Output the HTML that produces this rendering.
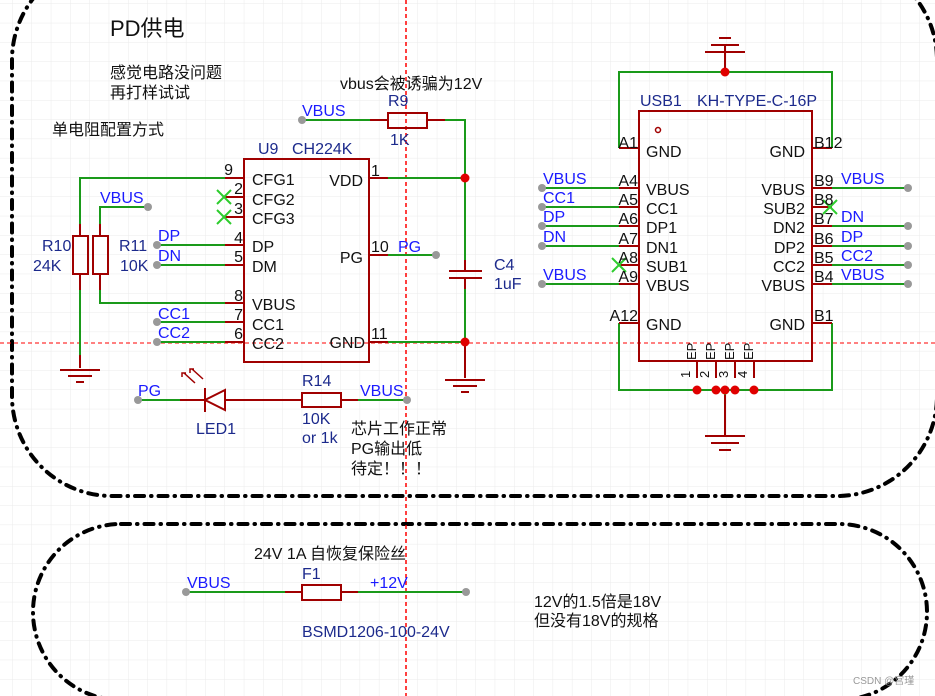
<!DOCTYPE html>
<html><head><meta charset="utf-8"><style>
html,body{margin:0;padding:0;background:#fff;}
svg{display:block;}
text{font-family:"Liberation Sans","Noto Sans CJK SC",sans-serif;}
</style></head><body>
<svg width="935" height="696" viewBox="0 0 935 696" xmlns="http://www.w3.org/2000/svg">
<defs>
<pattern id="g" x="12.2" y="3.5" width="19.3" height="19.3" patternUnits="userSpaceOnUse">
<path d="M0 0H19.3M0 0V19.3" stroke="#ebebeb" stroke-width="1" fill="none"/>
</pattern>
</defs>
<rect width="935" height="696" fill="#fff"/>
<rect width="935" height="696" fill="url(#g)"/>

<!-- dash-dot outlines -->
<g fill="none" stroke="#000" stroke-width="4" stroke-dasharray="9,7,0.5,7" stroke-linecap="round">
<rect x="12" y="-40" width="925" height="536" rx="100" ry="100"/>
<rect x="33" y="524" width="894" height="176" rx="88" ry="88"/>
</g>

<!-- red guide lines -->
<line x1="406" y1="0" x2="406" y2="696" stroke="#f00" stroke-width="1.5" stroke-dasharray="4,3"/>
<line x1="0" y1="343" x2="935" y2="343" stroke="#f00" stroke-width="1" stroke-dasharray="4,3"/>

<g stroke-width="2" fill="none">
<g stroke="#1a9a1a">
<path d="M302 120H370M445 120H465V178H388M465 178V260M465 289V342H388M465 342V375"/>
<path d="M225 178H80V236M80 274V358"/>
<path d="M148 207H100V236M100 274V303H225"/>
<path d="M157 245H225M157 265H225M157 322H225M157 342H225"/>
<path d="M388 255H436"/>
<path d="M138 400H180M265 400H285M358 400H407"/>
<path d="M725 72V55M619 148V72H832V148"/>
<path d="M542 188H619M542 207H619M542 226H619M542 246H619M542 284H619"/>
<path d="M832 188H908M832 226H908M832 246H908M832 265H908M832 284H908"/>
<path d="M619 323V390H832V323M725 390V425"/>
<path d="M186 592H285M358 592H466"/>
</g>
<g stroke="#a00000">
<path d="M370 120H388M427 120H445"/>
<path d="M225 178H244M225 197H244M225 217H244M225 245H244M225 265H244M225 303H244M225 322H244M225 342H244"/>
<path d="M369 178H388M369 255H388M369 342H388"/>
<path d="M80 236V224M80 274V290M100 274V290M100 236V224"/>
<path d="M465 260V271M465 278V289M465 342V378"/>
<path d="M80 355V368M180 400H205M225 400H302M341 400H358"/>
<path d="M619 148H639M619 188H639M619 207H639M619 226H639M619 246H639M619 265H639M619 284H639M619 323H639"/>
<path d="M812 148H832M812 188H832M812 207H832M812 226H832M812 246H832M812 265H832M812 284H832M812 323H832"/>
<path d="M697 361V378M716 361V378M735 361V378M754 361V378M725 72V45M725 395V435"/>
<path d="M285 592H302M341 592H358"/>
</g>
<g stroke="#a00000">
<rect x="244" y="159" width="125" height="203"/>
<rect x="388" y="113" width="39" height="15"/>
<rect x="73" y="236" width="15" height="38"/>
<rect x="93" y="236" width="15" height="38"/>
<path d="M449 271H482M449 278H482"/>
<rect x="302" y="393" width="39" height="14"/>
<rect x="302" y="585" width="39" height="15"/>
<rect x="639" y="111" width="173" height="250"/>
<path d="M225 390L205 400L225 410Z M205 388V412"/>
<path d="M195 383L184 373M186 373h-4v4 M203 379L192 369M194 369h-4v4" stroke-width="1.5"/>
<path d="M60 370H100M68 376H92M76 382H84"/>
<path d="M445 380H485M453 386H477M461 392H469"/>
<path d="M705 52H745M711 45H739M719 38H731"/>
<path d="M705 436H745M711 443H739M719 450H731"/>
</g>
<circle cx="658" cy="130" r="2.5" stroke="#a00000" stroke-width="1.5"/>
</g>
<g stroke="#2ecc2e" stroke-width="2">
<path d="M217 190l14 14M231 190l-14 14M217 210l14 14M231 210l-14 14"/>
<path d="M612 258l14 14M626 258l-14 14M823 200l14 14M837 200l-14 14"/>
</g>
<g fill="#e00000">
<circle cx="465" cy="178" r="4.5"/><circle cx="465" cy="342" r="4.5"/>
<circle cx="725" cy="72" r="4.5"/>
<circle cx="697" cy="390" r="4.5"/><circle cx="716" cy="390" r="4.5"/><circle cx="725" cy="390" r="4.5"/><circle cx="735" cy="390" r="4.5"/><circle cx="754" cy="390" r="4.5"/>
</g>
<g fill="#999">
<circle cx="302" cy="120" r="4"/><circle cx="148" cy="207" r="4"/>
<circle cx="157" cy="245" r="4"/><circle cx="157" cy="265" r="4"/><circle cx="157" cy="322" r="4"/><circle cx="157" cy="342" r="4"/>
<circle cx="436" cy="255" r="4"/><circle cx="138" cy="400" r="4"/><circle cx="407" cy="400" r="4"/>
<circle cx="542" cy="188" r="4"/><circle cx="542" cy="207" r="4"/><circle cx="542" cy="226" r="4"/><circle cx="542" cy="246" r="4"/><circle cx="542" cy="284" r="4"/>
<circle cx="908" cy="188" r="4"/><circle cx="908" cy="226" r="4"/><circle cx="908" cy="246" r="4"/><circle cx="908" cy="265" r="4"/><circle cx="908" cy="284" r="4"/>
<circle cx="186" cy="592" r="4"/><circle cx="466" cy="592" r="4"/>
</g>

<g fill="#111" font-size="16">
<text x="110" y="36" font-size="22">PD供电</text>
<text x="110" y="78" font-size="16">感觉电路没问题</text>
<text x="110" y="98" font-size="16">再打样试试</text>
<text x="52" y="135" font-size="16">单电阻配置方式</text>
<text x="340" y="89" font-size="16">vbus会被诱骗为12V</text>
<text x="351" y="434" font-size="16">芯片工作正常</text>
<text x="351" y="454" font-size="16">PG输出低</text>
<text x="351" y="474" font-size="16">待定！！！</text>
<text x="254" y="559" font-size="16">24V 1A 自恢复保险丝</text>
<text x="534" y="607" font-size="16">12V的1.5倍是18V</text>
<text x="534" y="626" font-size="16">但没有18V的规格</text>
<g font-size="16">
<text x="252" y="185">CFG1</text><text x="252" y="205">CFG2</text><text x="252" y="224">CFG3</text>
<text x="252" y="252">DP</text><text x="252" y="272">DM</text>
<text x="252" y="310">VBUS</text><text x="252" y="330">CC1</text><text x="252" y="349">CC2</text>
<text x="363" y="186" text-anchor="end">VDD</text><text x="363" y="263" text-anchor="end">PG</text><text x="365" y="348" text-anchor="end">GND</text>
<text x="233" y="175" text-anchor="end">9</text><text x="243" y="194" text-anchor="end">2</text><text x="243" y="214" text-anchor="end">3</text>
<text x="243" y="243" text-anchor="end">4</text><text x="243" y="262" text-anchor="end">5</text><text x="243" y="301" text-anchor="end">8</text>
<text x="243" y="320" text-anchor="end">7</text><text x="243" y="339" text-anchor="end">6</text>
<text x="371" y="176">1</text><text x="371" y="252">10</text><text x="371" y="339">11</text>
<text x="646" y="157">GND</text><text x="646" y="195">VBUS</text><text x="646" y="214">CC1</text><text x="646" y="233">DP1</text>
<text x="646" y="253">DN1</text><text x="646" y="272">SUB1</text><text x="646" y="291">VBUS</text><text x="646" y="330">GND</text>
<text x="805" y="157" text-anchor="end">GND</text><text x="805" y="195" text-anchor="end">VBUS</text><text x="805" y="214" text-anchor="end">SUB2</text>
<text x="805" y="233" text-anchor="end">DN2</text><text x="805" y="253" text-anchor="end">DP2</text><text x="805" y="272" text-anchor="end">CC2</text>
<text x="805" y="291" text-anchor="end">VBUS</text><text x="805" y="330" text-anchor="end">GND</text>
<text x="638" y="148" text-anchor="end">A1</text><text x="638" y="186" text-anchor="end">A4</text><text x="638" y="205" text-anchor="end">A5</text>
<text x="638" y="224" text-anchor="end">A6</text><text x="638" y="244" text-anchor="end">A7</text><text x="638" y="263" text-anchor="end">A8</text>
<text x="638" y="282" text-anchor="end">A9</text><text x="638" y="321" text-anchor="end">A12</text>
<text x="814" y="148">B12</text><text x="814" y="186">B9</text><text x="814" y="205">B8</text><text x="814" y="224">B7</text>
<text x="814" y="244">B6</text><text x="814" y="263">B5</text><text x="814" y="282">B4</text><text x="814" y="321">B1</text>
</g>
<g font-size="13">
<text transform="translate(696,360) rotate(-90)">EP</text><text transform="translate(715,360) rotate(-90)">EP</text>
<text transform="translate(734,360) rotate(-90)">EP</text><text transform="translate(753,360) rotate(-90)">EP</text>
<text transform="translate(690,378) rotate(-90)">1</text><text transform="translate(709,378) rotate(-90)">2</text>
<text transform="translate(728,378) rotate(-90)">3</text><text transform="translate(747,378) rotate(-90)">4</text>
</g>
</g>

<g fill="#1c2a8c" font-size="16">
<text x="388" y="106">R9</text><text x="390" y="145">1K</text>
<text x="258" y="154">U9</text><text x="292" y="154">CH224K</text>
<text x="42" y="251">R10</text><text x="33" y="271">24K</text>
<text x="119" y="251">R11</text><text x="120" y="271">10K</text>
<text x="494" y="270">C4</text><text x="494" y="289">1uF</text>
<text x="302" y="386">R14</text><text x="302" y="424">10K</text><text x="302" y="443">or 1k</text>
<text x="196" y="434">LED1</text>
<text x="640" y="106">USB1</text><text x="697" y="106">KH-TYPE-C-16P</text>
<text x="302" y="579">F1</text>
<text x="302" y="637">BSMD1206-100-24V</text>
</g>
<g fill="#1a1aff" font-size="16">
<text x="302" y="116">VBUS</text><text x="100" y="203">VBUS</text>
<text x="158" y="241">DP</text><text x="158" y="261">DN</text><text x="158" y="319">CC1</text><text x="158" y="338">CC2</text>
<text x="398" y="252">PG</text><text x="138" y="396">PG</text><text x="360" y="396">VBUS</text>
<text x="543" y="184">VBUS</text><text x="543" y="203">CC1</text><text x="543" y="222">DP</text><text x="543" y="242">DN</text><text x="543" y="280">VBUS</text>
<text x="841" y="184">VBUS</text><text x="841" y="222">DN</text><text x="841" y="242">DP</text><text x="841" y="261">CC2</text><text x="841" y="280">VBUS</text>
<text x="187" y="588">VBUS</text><text x="370" y="588">+12V</text>
</g>
<text x="853" y="684" fill="#999" font-size="10">CSDN @宫瑾</text>
</svg>
</body></html>
